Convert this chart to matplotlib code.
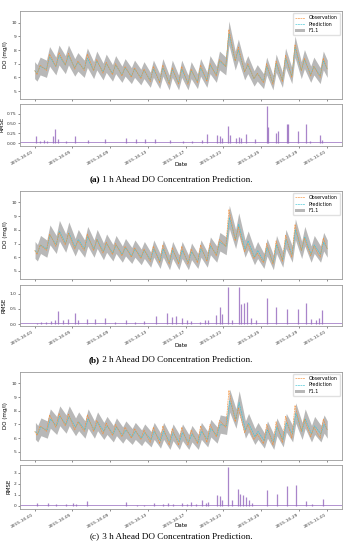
import datetime as dt

import matplotlib

matplotlib.use("Agg")
import matplotlib.dates as mdates
import matplotlib.pyplot as plt

# ── Data ──────────────────────────────────────────────────────────────────────
START = dt.datetime(2015, 10, 1)
END = dt.datetime(2015, 11, 1)
TROUGH_HOUR = 6
PEAK_HOUR = 14

# observed DO, daily trough / peak (mg/l), Oct 1 .. Oct 31
obs_first = 6.5
obs_last = 6.6
obs_trough = [6.2, 6.5, 6.8, 6.9, 6.6, 6.5, 6.5, 6.3, 6.2, 6.1, 6.0, 5.9, 5.7, 5.6, 5.5, 5.5,
              5.5, 5.6, 5.7, 6.1, 6.8, 7.2, 6.4, 5.9, 5.6, 5.5, 5.7, 6.0, 6.5, 6.1, 6.0]
obs_peak = [6.9, 7.7, 7.8, 7.75, 7.2, 7.7, 7.3, 7.1, 7.0, 6.8, 6.7, 6.6, 6.8, 6.9, 6.7, 6.8,
            6.6, 6.9, 7.0, 7.3, 9.5, 8.2, 7.0, 6.3, 7.0, 7.2, 7.6, 8.4, 7.4, 6.8, 7.4]

# predictions for 1 h, 2 h, 3 h ahead
pred_a_trough = [6.3, 6.6, 6.8, 6.9, 6.7, 6.6, 6.5, 6.4, 6.3, 6.2, 6.1, 6.0, 5.8, 5.7, 5.6, 5.6,
                 5.6, 5.7, 5.8, 6.2, 6.8, 7.2, 6.4, 5.9, 5.7, 5.6, 5.8, 6.1, 6.5, 6.2, 6.1]
pred_a_peak = [6.8, 7.5, 7.6, 7.6, 7.1, 7.4, 7.2, 7.0, 6.9, 6.7, 6.6, 6.5, 6.6, 6.7, 6.6, 6.6,
               6.5, 6.7, 6.9, 7.2, 9.2, 8.0, 6.9, 6.3, 6.8, 7.0, 7.4, 8.2, 7.3, 6.8, 7.2]
pred_b_trough = [6.3, 6.6, 6.9, 7.0, 6.7, 6.6, 6.6, 6.4, 6.3, 6.2, 6.1, 6.0, 5.8, 5.7, 5.6, 5.6,
                 5.6, 5.7, 5.8, 6.2, 6.8, 7.3, 6.6, 6.0, 5.7, 5.6, 5.8, 6.2, 6.5, 6.2, 6.2]
pred_b_peak = [6.9, 7.6, 7.9, 7.8, 7.3, 7.5, 7.3, 7.0, 6.9, 6.7, 6.6, 6.5, 6.6, 6.6, 6.5, 6.5,
               6.4, 6.6, 6.8, 7.1, 8.9, 8.4, 7.2, 6.5, 6.7, 6.9, 7.3, 8.0, 7.5, 6.9, 7.1]
pred_c_trough = [6.3, 6.6, 6.9, 7.0, 6.8, 6.6, 6.6, 6.5, 6.3, 6.2, 6.1, 6.0, 5.9, 5.8, 5.7, 5.7,
                 5.7, 5.7, 5.9, 6.2, 6.9, 7.4, 6.6, 6.1, 5.8, 5.7, 5.9, 6.3, 6.5, 6.3, 6.3]
pred_c_peak = [6.8, 7.4, 7.6, 7.6, 7.2, 7.4, 7.2, 6.9, 6.8, 6.6, 6.5, 6.4, 6.5, 6.5, 6.4, 6.4,
               6.3, 6.5, 6.7, 7.0, 8.7, 8.6, 7.1, 6.5, 6.6, 6.8, 7.1, 7.8, 7.4, 6.9, 7.0]
pred_lag_hours = [0, 1, 2]
band_factor = 1.1

# RMSE spikes: day offset from Oct 1, value
rmse_a_day = [0.18, 0.6, 1.0, 1.3, 1.95, 2.2, 2.45, 3.3, 4.25, 5.7, 7.5, 9.7, 10.7, 11.7, 12.7,
              14.3, 15.7, 16.7, 17.7, 18.3, 19.3, 19.6, 19.9, 20.5, 20.7, 21.3, 21.6, 21.9,
              22.4, 23.3, 24.6, 24.7, 25.6, 25.75, 26.7, 26.8, 27.9, 28.7, 29.2, 30.2, 30.4]
rmse_a_val = [0.19, 0.05, 0.07, 0.06, 0.19, 0.36, 0.1, 0.06, 0.17, 0.08, 0.10, 0.13, 0.09, 0.10,
              0.09, 0.07, 0.05, 0.05, 0.07, 0.23, 0.21, 0.19, 0.12, 0.43, 0.2, 0.12, 0.15, 0.12,
              0.22, 0.1, 0.95, 0.4, 0.26, 0.3, 0.49, 0.49, 0.3, 0.49, 0.05, 0.21, 0.08]
rmse_b_day = [0.3, 0.7, 1.2, 1.7, 2.2, 2.5, 3.0, 3.5, 4.25, 4.6, 5.6, 6.4, 7.5, 8.5, 9.7, 10.6,
              11.6, 12.9, 14.0, 14.5, 15.0, 15.6, 16.1, 16.6, 17.5, 18.0, 18.4, 19.2, 19.6,
              19.8, 20.5, 20.9, 21.6, 21.85, 22.2, 22.5, 22.9, 23.4, 24.6, 25.6, 26.7, 27.9,
              28.8, 29.3, 29.8, 30.1, 30.4]
rmse_b_val = [0.05, 0.08, 0.06, 0.1, 0.15, 0.43, 0.15, 0.18, 0.36, 0.12, 0.17, 0.17, 0.2, 0.06,
              0.15, 0.08, 0.1, 0.28, 0.37, 0.22, 0.26, 0.2, 0.15, 0.1, 0.08, 0.12, 0.15, 0.3,
              0.57, 0.35, 1.23, 0.15, 1.23, 0.65, 0.7, 0.74, 0.2, 0.15, 0.85, 0.57, 0.51, 0.51,
              0.7, 0.18, 0.15, 0.2, 0.48]
rmse_c_day = [0.25, 1.4, 2.3, 3.3, 4.1, 4.4, 5.5, 9.7, 10.8, 11.6, 12.6, 13.6, 14.1, 14.7, 15.6,
              16.1, 16.6, 17.1, 17.7, 18.2, 18.4, 19.3, 19.6, 19.9, 20.45, 20.9, 21.5, 21.8,
              22.1, 22.4, 22.7, 23.0, 24.6, 25.7, 26.7, 27.7, 28.7, 29.4, 30.6]
rmse_c_val = [0.25, 0.3, 0.2, 0.2, 0.25, 0.2, 0.45, 0.35, 0.1, 0.12, 0.3, 0.2, 0.25, 0.2, 0.25,
              0.2, 0.4, 0.2, 0.5, 0.3, 0.35, 1.0, 0.9, 0.5, 3.5, 0.5, 1.5, 1.1, 1.0, 0.8, 0.5,
              0.3, 1.4, 1.1, 1.75, 1.9, 0.45, 0.15, 0.65]
rmse_floor = [0.02, 0.03, 0.05]

captions = ["1 h Ahead DO Concentration Prediction.",
            "2 h Ahead DO Concentration Prediction.",
            "3 h Ahead DO Concentration Prediction."]
letters = ["(a)", "(b)", "(c)"]
rmse_ylims = [(-0.07, 1.0), (-0.07, 1.3), (-0.25, 3.7)]
rmse_ticks = [[0.0, 0.25, 0.5, 0.75], [0.0, 0.5, 1.0], [0, 1, 2, 3]]
rmse_fmt = ["{:.2f}", "{:.1f}", "{:.0f}"]

# ── Layout (figure fractions) ─────────────────────────────────────────────────
MAIN_RECTS = [(0.057, 0.820, 0.917, 0.160), (0.057, 0.493, 0.917, 0.160),
              (0.057, 0.164, 0.917, 0.160)]
RMSE_RECTS = [(0.057, 0.735, 0.917, 0.076), (0.057, 0.407, 0.917, 0.075),
              (0.057, 0.075, 0.917, 0.080)]
DATE_LABEL_Y = [-0.40, -0.42, -0.33]
CAPTION_Y = [0.672, 0.345, 0.024]

OBS_COLOR = "#f5913a"
PRED_COLOR = "#3fc4d4"
RMSE_COLOR = "#9467bd"
SPINE_COLOR = "#9a9a9a"


def build_series(troughs, peaks, first, last, lag_h):
    times = [START + dt.timedelta(hours=lag_h)]
    vals = [first]
    for d, (lo, hi) in enumerate(zip(troughs, peaks)):
        times.append(START + dt.timedelta(days=d, hours=TROUGH_HOUR + lag_h))
        vals.append(lo)
        times.append(START + dt.timedelta(days=d, hours=PEAK_HOUR + lag_h))
        vals.append(hi)
    times.append(END)
    vals.append(last)
    return times, vals


def style_axes(ax):
    for sp in ax.spines.values():
        sp.set_color(SPINE_COLOR)
        sp.set_linewidth(0.6)
    ax.tick_params(labelsize=3.2, length=1.5, width=0.4, pad=1, colors="#333333")


fig = plt.figure(figsize=(3.51, 5.5), dpi=100)

obs_t, obs_v = build_series(obs_trough, obs_peak, obs_first, obs_last, 0)
preds = [(pred_a_trough, pred_a_peak), (pred_b_trough, pred_b_peak), (pred_c_trough, pred_c_peak)]
rmses = [(rmse_a_day, rmse_a_val), (rmse_b_day, rmse_b_val), (rmse_c_day, rmse_c_val)]
day_ticks = mdates.DayLocator(bymonthday=[1, 5, 9, 13, 17, 21, 25, 29])

for i in range(3):
    ax = fig.add_axes(MAIN_RECTS[i])
    pt, pv = build_series(preds[i][0], preds[i][1], obs_first, obs_last, pred_lag_hours[i])
    lo = [v / band_factor for v in pv]
    hi = [v * band_factor for v in pv]
    ax.fill_between(pt, lo, hi, color="#9a9a9a", alpha=0.7, lw=0, label="F1.1", zorder=1)
    ax.plot(obs_t, obs_v, color=OBS_COLOR, lw=0.45, ls=(0, (3, 1)), label="Observation", zorder=3)
    ax.plot(pt, pv, color=PRED_COLOR, lw=0.45, ls=(0, (3, 1)), label="Prediction", zorder=2)
    ax.set_ylim(4.42, 10.85)
    ax.set_yticks([5, 6, 7, 8, 9, 10])
    ax.set_ylabel("DO (mg/l)", fontsize=4, labelpad=2)
    ax.xaxis.set_major_locator(mdates.DayLocator(bymonthday=[1, 5, 9, 13, 17, 21, 25, 29]))
    ax.tick_params(axis="x", labelbottom=False)
    style_axes(ax)
    handles, labels = ax.get_legend_handles_labels()
    order = [labels.index(n) for n in ["Observation", "Prediction", "F1.1"]]
    ax.legend([handles[k] for k in order], [labels[k] for k in order], loc="upper right",
              fontsize=3.4, frameon=True, framealpha=0.9, borderpad=0.4, handlelength=2.2,
              labelspacing=0.3, edgecolor="#dddddd")
    xlim = ax.get_xlim()

    rx = fig.add_axes(RMSE_RECTS[i])
    days, vals = rmses[i]
    times = [START + dt.timedelta(days=d) for d in days]
    rx.axhline(rmse_floor[i], color=RMSE_COLOR, lw=0.5)
    rx.vlines(times, 0, vals, color=RMSE_COLOR, lw=0.9, alpha=0.8)
    rx.set_xlim(xlim)
    rx.set_ylim(*rmse_ylims[i])
    rx.set_yticks(rmse_ticks[i])
    rx.set_yticklabels([rmse_fmt[i].format(v) for v in rmse_ticks[i]])
    rx.set_ylabel("RMSE", fontsize=4, labelpad=2)
    rx.set_xlabel("Date", fontsize=4)
    rx.xaxis.set_label_coords(0.5, DATE_LABEL_Y[i])
    rx.xaxis.set_major_locator(mdates.DayLocator(bymonthday=[1, 5, 9, 13, 17, 21, 25, 29]))
    rx.xaxis.set_major_formatter(mdates.DateFormatter("%Y-%m-%d"))
    style_axes(rx)
    for lab in rx.get_xticklabels():
        lab.set_rotation(30)
        lab.set_ha("right")

    bold = "bold" if i < 2 else "normal"
    fig.text(0.285, CAPTION_Y[i], letters[i], ha="right", va="center", fontsize=6.6,
             family="Liberation Serif", weight=bold)
    fig.text(0.285, CAPTION_Y[i], " " + captions[i], ha="left", va="center", fontsize=6.6,
             family="Liberation Serif")

fig.savefig("out.png", dpi=100)
